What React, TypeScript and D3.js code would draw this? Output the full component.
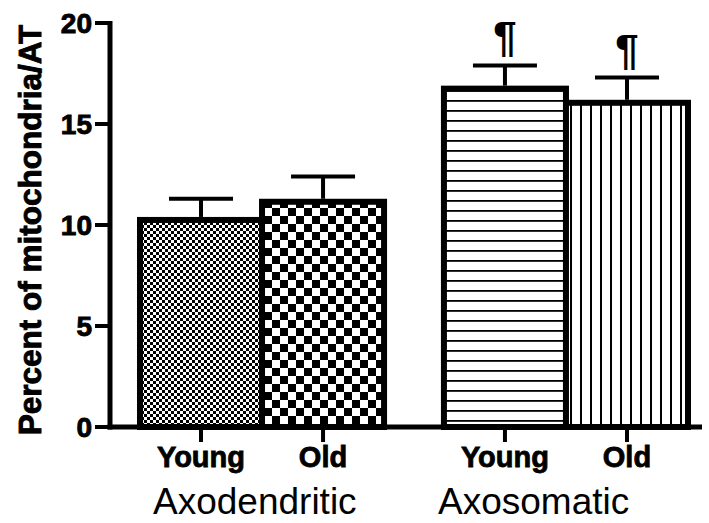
import { useEffect, useRef } from 'react'
import * as d3 from 'd3'

const groups = ['Axodendritic', 'Axosomatic']
const conditions = ['Young', 'Old']
const meanValues = [10.25, 11.15, 16.75, 16.05]
const semValues = [1.05, 1.25, 1.15, 1.25]
const markers = ['', '', '¶', '¶']
const patternIds = ['fineChecker', 'coarseChecker', 'hLines', 'vLines']
const yTicks = [0, 5, 10, 15, 20]

const FONT = '"Liberation Sans", Arial, Helvetica, sans-serif'

export default function App() {
  const svgRef = useRef<SVGSVGElement>(null)
  const width = 709
  const height = 523

  useEffect(() => {
    if (!svgRef.current) return
    const svg = d3.select(svgRef.current)
    svg.selectAll('*').remove()

    const axisX = 110
    const yScale = d3.scaleLinear().domain([0, 20]).range([427, 23])
    const groupScale = d3.scaleBand<string>().domain(groups).range([140, 688]).paddingInner(0.197)
    const condScale = d3.scaleBand<string>().domain(conditions).range([0, groupScale.bandwidth()])

    const bars = meanValues.map((v, i) => {
      const g = groups[Math.floor(i / 2)]
      const c = conditions[i % 2]
      return {
        value: v,
        sem: semValues[i],
        marker: markers[i],
        pattern: patternIds[i],
        x: (groupScale(g) ?? 0) + (condScale(c) ?? 0),
        w: condScale.bandwidth(),
        label: c,
      }
    })

    // patterns
    const defs = svg.append('defs')
    const fine = defs.append('pattern').attr('id', 'fineChecker')
      .attr('patternUnits', 'userSpaceOnUse').attr('width', 6).attr('height', 6)
    fine.append('rect').attr('width', 6).attr('height', 6).attr('fill', '#fff')
    fine.append('rect').attr('width', 3).attr('height', 3).attr('fill', '#000')
    fine.append('rect').attr('x', 3).attr('y', 3).attr('width', 3).attr('height', 3).attr('fill', '#000')

    const coarse = defs.append('pattern').attr('id', 'coarseChecker')
      .attr('patternUnits', 'userSpaceOnUse').attr('width', 16).attr('height', 16)
    coarse.append('rect').attr('width', 16).attr('height', 16).attr('fill', '#fff')
    coarse.append('rect').attr('width', 8).attr('height', 8).attr('fill', '#000')
    coarse.append('rect').attr('x', 8).attr('y', 8).attr('width', 8).attr('height', 8).attr('fill', '#000')

    const hl = defs.append('pattern').attr('id', 'hLines')
      .attr('patternUnits', 'userSpaceOnUse').attr('width', 10).attr('height', 10)
    hl.append('rect').attr('width', 10).attr('height', 10).attr('fill', '#fff')
    hl.append('rect').attr('y', 0).attr('width', 10).attr('height', 1.8).attr('fill', '#000')

    const vl = defs.append('pattern').attr('id', 'vLines')
      .attr('patternUnits', 'userSpaceOnUse').attr('width', 10).attr('height', 10)
    vl.append('rect').attr('width', 10).attr('height', 10).attr('fill', '#fff')
    vl.append('rect').attr('x', 0).attr('width', 2).attr('height', 10).attr('fill', '#000')

    svg.append('rect').attr('width', width).attr('height', height).attr('fill', '#fff')

    // bars
    svg.selectAll('.bar')
      .data(bars)
      .enter().append('rect')
      .attr('class', 'bar')
      .attr('x', d => d.x)
      .attr('y', d => yScale(d.value))
      .attr('width', d => d.w)
      .attr('height', d => yScale(0) - yScale(d.value))
      .attr('fill', d => `url(#${d.pattern})`)
      .attr('stroke', '#000')
      .attr('stroke-width', 6)

    // error bars
    bars.forEach(d => {
      const cx = d.x + d.w / 2
      const top = yScale(d.value + d.sem)
      svg.append('line')
        .attr('x1', cx).attr('x2', cx)
        .attr('y1', yScale(d.value) - 3).attr('y2', top)
        .attr('stroke', '#000').attr('stroke-width', 4)
      svg.append('line')
        .attr('x1', cx - 32).attr('x2', cx + 32)
        .attr('y1', top).attr('y2', top)
        .attr('stroke', '#000').attr('stroke-width', 4)
      if (d.marker) {
        svg.append('text')
          .attr('x', cx).attr('y', top - 14)
          .attr('text-anchor', 'middle')
          .attr('font-family', FONT).attr('font-weight', 'bold').attr('font-size', 42)
          .text(d.marker)
      }
    })

    // y axis
    svg.append('line')
      .attr('x1', axisX).attr('x2', axisX)
      .attr('y1', yScale(20) - 2).attr('y2', yScale(0) + 2.5)
      .attr('stroke', '#000').attr('stroke-width', 5)
    yTicks.forEach(t => {
      svg.append('line')
        .attr('x1', 95).attr('x2', axisX)
        .attr('y1', yScale(t)).attr('y2', yScale(t))
        .attr('stroke', '#000').attr('stroke-width', 4)
      svg.append('text')
        .attr('x', 92).attr('y', yScale(t))
        .attr('dy', '0.36em')
        .attr('text-anchor', 'end')
        .attr('font-family', FONT).attr('font-weight', 'bold').attr('font-size', 28)
        .attr('stroke', '#000').attr('stroke-width', 0.9)
        .text(t)
    })

    // x axis
    svg.append('line')
      .attr('x1', axisX - 2.5).attr('x2', 702)
      .attr('y1', yScale(0)).attr('y2', yScale(0))
      .attr('stroke', '#000').attr('stroke-width', 5)
    bars.forEach(d => {
      const cx = d.x + d.w / 2
      svg.append('line')
        .attr('x1', cx).attr('x2', cx)
        .attr('y1', yScale(0)).attr('y2', 442)
        .attr('stroke', '#000').attr('stroke-width', 4)
      svg.append('text')
        .attr('x', cx).attr('y', 467)
        .attr('text-anchor', 'middle')
        .attr('font-family', FONT).attr('font-weight', 'bold').attr('font-size', 29)
        .attr('stroke', '#000').attr('stroke-width', 0.8)
        .text(d.label)
    })

    // group labels
    const groupLabelX = [153, 438]
    groups.forEach((g, i) => {
      svg.append('text')
        .attr('x', groupLabelX[i]).attr('y', 514)
        .attr('font-family', FONT).attr('font-size', 37)
        .text(g)
    })

    // y label
    svg.append('text')
      .attr('transform', `translate(41,${yScale(10) + 5}) rotate(-90)`)
      .attr('text-anchor', 'middle')
      .attr('font-family', FONT).attr('font-weight', 'bold').attr('font-size', 31.5)
      .attr('stroke', '#000').attr('stroke-width', 0.9)
      .text('Percent of mitochondria/AT')
  }, [])

  return (
    <svg
      ref={svgRef}
      width={width}
      height={height}
      style={{ position: 'absolute', left: 0, top: 0 }}
    />
  )
}
